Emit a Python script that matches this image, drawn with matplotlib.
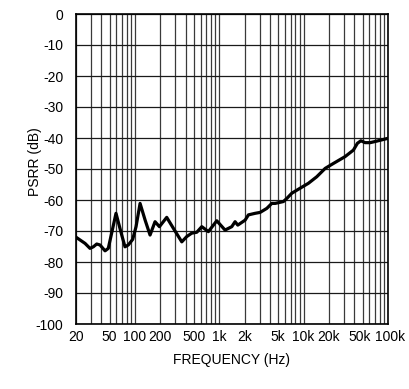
import numpy as np
import matplotlib
matplotlib.use('Agg')
import matplotlib.pyplot as plt
import matplotlib.transforms as mtransforms
from matplotlib.ticker import FixedLocator, NullFormatter

plt.rcParams['font.family'] = ['Liberation Sans', 'DejaVu Sans']
plt.rcParams['axes.unicode_minus'] = False

# PSRR curve
freq_hz = [20, 25.6, 29.3, 32.1, 35.2, 38.5, 44.2, 48.3, 59.6, 69.7, 76.2, 83.4,
           94, 103, 115, 132, 151, 173, 195, 238, 285, 359, 411, 471, 541, 620,
           742, 933, 1170, 1406, 1538, 1656, 2023, 2214, 2655, 3046, 3658, 4190,
           4590, 5754, 6312, 7245, 9080, 11400, 14300, 18000, 22560, 31000,
           38900, 43400, 47700, 53600, 61500, 73800, 100000]
psrr_db = [-72.0, -74.0, -75.6, -75.1, -74.2, -74.5, -76.4, -75.6, -64.3, -71.3,
           -75.1, -74.5, -72.7, -68.6, -61.1, -66.5, -71.3, -67.0, -68.6, -65.6,
           -69.1, -73.5, -71.8, -70.7, -70.4, -68.6, -70.2, -66.7, -69.7, -68.6,
           -67.0, -68.1, -66.5, -64.8, -64.3, -64.0, -62.7, -61.1, -61.1, -60.5,
           -59.5, -57.8, -56.2, -54.6, -52.5, -49.8, -48.2, -46.0, -43.9, -41.7,
           -40.9, -41.5, -41.5, -41.0, -40.1]

xtick_vals = [20, 50, 100, 200, 500, 1e3, 2e3, 5e3, 1e4, 2e4, 5e4, 1e5]
xtick_labels = ['20', '50', '100', '200', '500', '1k', '2k', '5k', '10k', '20k', '50k', '100k']
ytick_vals = list(range(-100, 1, 10))

fig = plt.figure(figsize=(4.09, 3.89), dpi=100)
ax = fig.add_axes([76 / 409, 65 / 389, 312 / 409, 310 / 389])

ax.set_xscale('log')
ax.set_xlim(20, 1e5)
ax.set_ylim(-100, 0)

# grid: every 1..9 multiple per decade, every 10 dB
grid_x = [m * 10 ** d for d in range(1, 6) for m in range(1, 10) if 20 <= m * 10 ** d <= 1e5]
for gx in grid_x:
    ax.axvline(gx, color='#3a3a3a', lw=0.9, zorder=1)
for gy in ytick_vals:
    ax.axhline(gy, color='#1a1a1a', lw=0.9, zorder=1)

ax.plot(freq_hz, psrr_db, color='black', lw=2.3, zorder=3, solid_joinstyle='round')

ax.xaxis.set_major_locator(FixedLocator(xtick_vals))
ax.xaxis.set_minor_formatter(NullFormatter())
ax.set_xticks(xtick_vals)
ax.set_xticklabels(xtick_labels)
ax.set_yticks(ytick_vals)
ax.tick_params(axis='both', which='both', length=0, labelsize=10)
ax.tick_params(axis='x', pad=4)
ax.tick_params(axis='y', pad=9)

# nudge the crowded last two labels apart a little
labs = ax.get_xticklabels()
for lab, dx in ((labs[-2], -2.5), (labs[-1], 2.5)):
    lab.set_transform(lab.get_transform() +
                      mtransforms.ScaledTranslation(dx / 100, 0, fig.dpi_scale_trans))

for sp in ax.spines.values():
    sp.set_linewidth(1.2)
    sp.set_color('black')

fig.text(35 / 409, 1 - 162 / 389, 'PSRR (dB)', ha='center', va='center',
         rotation=90, fontsize=10)
fig.text(232 / 409, 1 - 360 / 389, 'FREQUENCY (Hz)', ha='center', va='center', fontsize=10)

fig.savefig('out.png', dpi=100)
